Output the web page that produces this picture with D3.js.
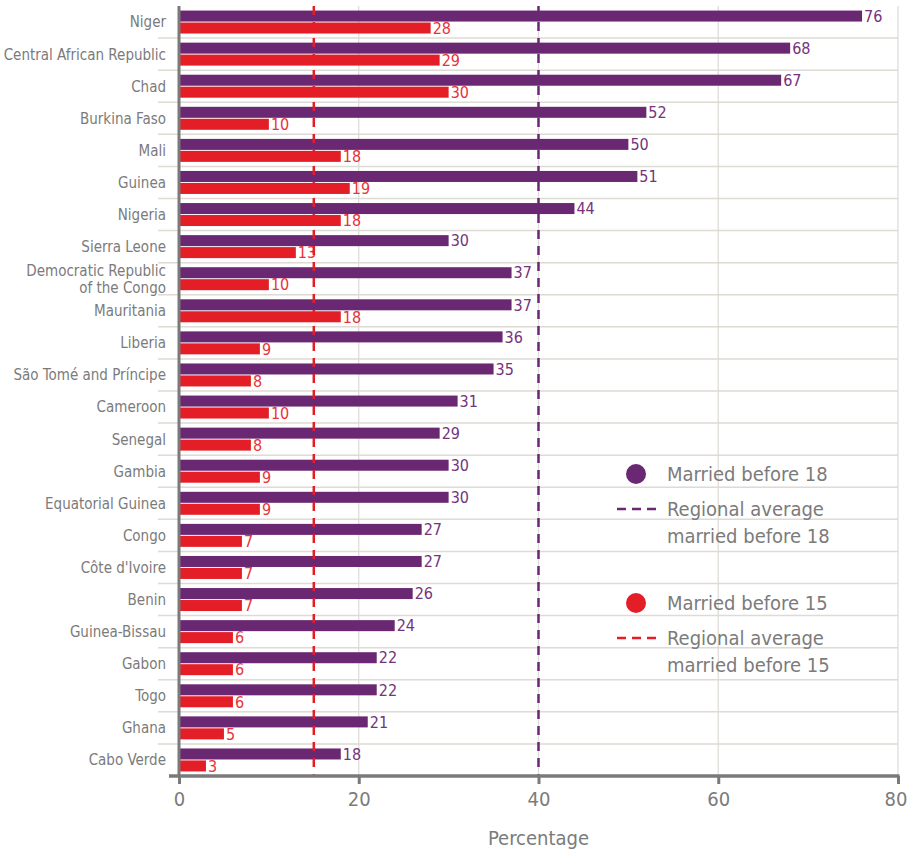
<!DOCTYPE html>
<html>
<head>
<meta charset="utf-8">
<script src="https://cdn.jsdelivr.net/npm/d3@7"></script>
<style>
  html, body { margin: 0; padding: 0; background: #fff; }
  svg { display: block; font-family: "DejaVu Sans Condensed", "DejaVu Sans", sans-serif; font-stretch: condensed; }
</style>
</head>
<body>
<svg id="chart" width="909" height="849"></svg>
<script>
const countries = ["Niger", "Central African Republic", "Chad", "Burkina Faso", "Mali", "Guinea", "Nigeria",
  "Sierra Leone", "Democratic Republic\nof the Congo", "Mauritania", "Liberia", "São Tomé and Príncipe",
  "Cameroon", "Senegal", "Gambia", "Equatorial Guinea", "Congo", "Côte d'Ivoire", "Benin",
  "Guinea-Bissau", "Gabon", "Togo", "Ghana", "Cabo Verde"];
const before18 = [76, 68, 67, 52, 50, 51, 44, 30, 37, 37, 36, 35, 31, 29, 30, 30, 27, 27, 26, 24, 22, 22, 21, 18];
const before15 = [28, 29, 30, 10, 18, 19, 18, 13, 10, 18, 9, 8, 10, 8, 9, 9, 7, 7, 7, 6, 6, 6, 5, 3];
const regionalAvg18 = 40;
const regionalAvg15 = 15;
const xTicks = [0, 20, 40, 60, 80];
const seriesNames = ["Married before 18", "Married before 15"];
const avgNames = ["Regional average\nmarried before 18", "Regional average\nmarried before 15"];
const axisTitle = "Percentage";

const colors = { b18: "#6a2873", b15: "#e31e27", t18: "#74347c", t15: "#e8323a", grid: "#dedad4", axis: "#7a7a7a", text: "#7b7b7b" };

const mLeft = 179, mRight = 898, mTop = 6, mBottom = 776;
const svg = d3.select("#chart");

const x = d3.scaleLinear().domain([0, 80]).range([mLeft, mRight]);
const y = d3.scaleBand().domain(countries).range([mTop, mBottom]);
const inner = d3.scaleBand().domain(["b18", "b15"]).range([0, y.bandwidth()]).paddingInner(0.08).paddingOuter(0.38);

const data = countries.map((c, i) => ({ c, b18: before18[i], b15: before15[i] }));

// horizontal separators
svg.append("g").selectAll("line").data(countries.slice(1)).join("line")
  .attr("x1", 158).attr("x2", mRight)
  .attr("y1", d => y(d)).attr("y2", d => y(d))
  .attr("stroke", colors.grid).attr("stroke-width", 1.5);

// vertical grid
svg.append("g").selectAll("line").data(xTicks.slice(1)).join("line")
  .attr("x1", d => x(d)).attr("x2", d => x(d))
  .attr("y1", mTop).attr("y2", mBottom)
  .attr("stroke", colors.grid).attr("stroke-width", 1.2);

// bars
const rows = svg.append("g").selectAll("g").data(data).join("g")
  .attr("transform", d => `translate(0,${y(d.c)})`);
["b18", "b15"].forEach(k => {
  rows.append("rect")
    .attr("x", x(0)).attr("y", inner(k))
    .attr("width", d => x(d[k]) - x(0)).attr("height", inner.bandwidth())
    .attr("fill", colors[k]);
  rows.append("text")
    .attr("x", d => x(d[k]) + 2).attr("y", inner(k) + inner.bandwidth() / 2)
    .attr("dy", "0.36em")
    .attr("font-size", 16)
    .attr("fill", k === "b18" ? colors.t18 : colors.t15)
    .text(d => d[k]);
});

// dashed regional average lines
[[regionalAvg15, colors.b15], [regionalAvg18, colors.b18]].forEach(([v, col]) => {
  svg.append("line")
    .attr("x1", x(v)).attr("x2", x(v)).attr("y1", mTop).attr("y2", mBottom)
    .attr("stroke", col).attr("stroke-width", 2.5).attr("stroke-dasharray", "9,7");
});

// country labels
const lbl = svg.append("g").selectAll("text").data(countries).join("text")
  .attr("text-anchor", "end")
  .attr("font-size", 15)
  .attr("fill", colors.text)
  .attr("transform", d => `translate(166,${y(d) + y.bandwidth() / 2})`);
lbl.each(function(d) {
  const lines = d.split("\n");
  const t = d3.select(this);
  lines.forEach((ln, i) => {
    t.append("tspan").attr("x", 0)
      .attr("y", (i - (lines.length - 1) / 2) * 17)
      .attr("dy", "0.36em").text(ln);
  });
});

// left axis line
svg.append("line").attr("x1", mLeft).attr("x2", mLeft).attr("y1", mTop).attr("y2", mBottom)
  .attr("stroke", colors.axis).attr("stroke-width", 3);

// bottom axis
const xAxis = d3.axisBottom(x).tickValues(xTicks).tickSize(8).tickPadding(8);
const gx = svg.append("g").attr("transform", `translate(0,${mBottom})`).call(xAxis);
gx.select(".domain").remove();
gx.attr("font-family", null);
gx.selectAll(".tick line").attr("stroke", colors.axis).attr("stroke-width", 3);
gx.selectAll(".tick text").attr("font-size", 20).attr("fill", colors.text);
gx.selectAll(".tick").filter(d => d === 80).select("text").attr("text-anchor", "end").attr("dx", "0.45em");
svg.append("line").attr("x1", 169).attr("x2", mRight + 1.5).attr("y1", mBottom).attr("y2", mBottom)
  .attr("stroke", colors.axis).attr("stroke-width", 3.5);

svg.append("text").attr("x", (mLeft + mRight) / 2).attr("y", 845)
  .attr("text-anchor", "middle").attr("font-size", 20).attr("fill", colors.text).text(axisTitle);

// legend
const legendItems = [
  { y: 474, col: colors.b18, name: seriesNames[0], avg: avgNames[0] },
  { y: 603, col: colors.b15, name: seriesNames[1], avg: avgNames[1] }
];
const lg = svg.append("g");
legendItems.forEach(it => {
  lg.append("circle").attr("cx", 636).attr("cy", it.y).attr("r", 10).attr("fill", it.col);
  lg.append("text").attr("x", 667).attr("y", it.y).attr("dy", "0.36em")
    .attr("font-size", 20).attr("fill", colors.text).text(it.name);
  lg.append("line").attr("x1", 617).attr("x2", 656).attr("y1", it.y + 35).attr("y2", it.y + 35)
    .attr("stroke", it.col).attr("stroke-width", 2.5).attr("stroke-dasharray", "9,6");
  const t = lg.append("text").attr("font-size", 20).attr("fill", colors.text);
  it.avg.split("\n").forEach((ln, i) => {
    t.append("tspan").attr("x", 667).attr("y", it.y + 35 + i * 27).attr("dy", "0.36em").text(ln);
  });
});
</script>
</body>
</html>
